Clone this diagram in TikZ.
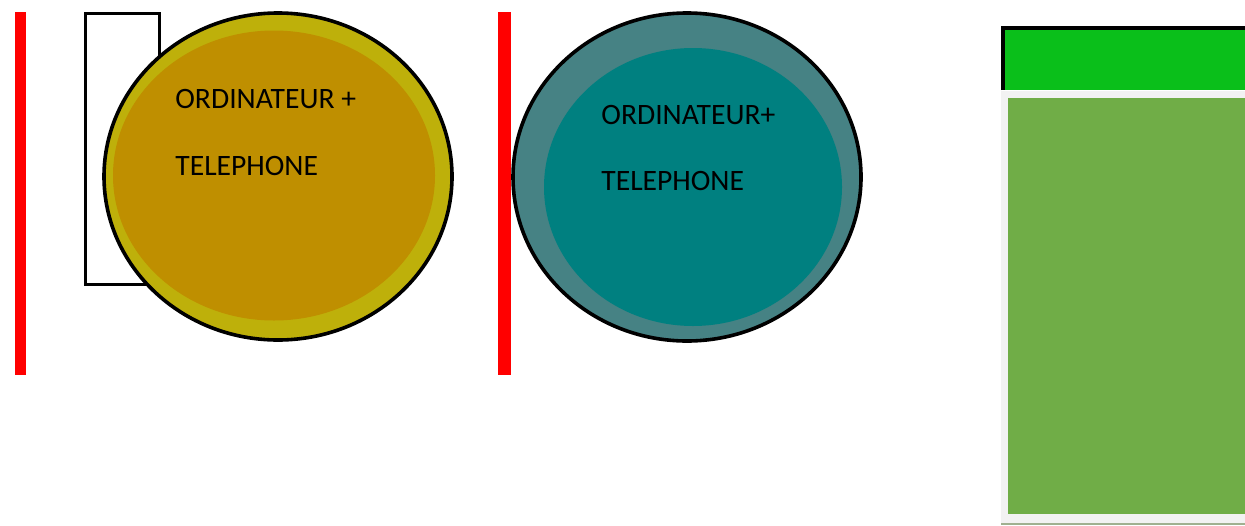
\documentclass[tikz,border=0pt]{standalone}
\usepackage{fontspec}
\setmainfont{Carlito}
\usetikzlibrary{shapes.geometric}
\definecolor{redbar}{RGB}{255,0,0}
\definecolor{olivering}{RGB}{190,176,10}
\definecolor{ochre}{RGB}{191,143,0}
\definecolor{tealring}{RGB}{70,130,132}
\definecolor{tealcore}{RGB}{0,128,128}
\definecolor{headgreen}{RGB}{10,191,26}
\definecolor{panelgreen}{RGB}{112,173,71}
\definecolor{panelgrey}{RGB}{242,242,242}
\definecolor{panelline}{RGB}{160,176,144}
\tikzset{
    bar/.style={fill=redbar, draw=none},
    ring/.style={draw, ellipse, line width=1.8pt, inner sep=0pt},
    core/.style={ellipse, draw=none, inner sep=0pt},
    label/.style={anchor=base west, inner sep=0pt, font=\fontsize{14.8}{17}\selectfont}
}
\begin{document}
\begin{tikzpicture}[x=0.5pt, y=-0.5pt]
\useasboundingbox (0,0) rectangle (1245,525);
\clip (0,0) rectangle (1245,525);
% red bars
\fill[bar] (15,12) rectangle (26,375);
\fill[bar] (498,12) rectangle (511,375);
% frame behind the first disc
\node[draw, line width=1.5pt, minimum width=37pt, minimum height=135.5pt, inner sep=0pt] (frame) at (122.5,148.5) {};
% first disc
\node[ring, fill=olivering, minimum width=174pt, minimum height=163.5pt] (discA) at (278,176.5) {};
\node[core, fill=ochre, minimum width=161pt, minimum height=145pt] (coreA) at (274,175.5) {};
\node[label] (pcA) at (175,108) {ORDINATEUR +};
\node[label] (telA) at (175,175) {TELEPHONE};
% second disc
\node[ring, fill=tealring, minimum width=174pt, minimum height=164pt] (discB) at (687,177) {};
\node[core, fill=tealcore, minimum width=149pt, minimum height=139pt] (coreB) at (693,187) {};
\node[label] (pcB) at (601,124) {ORDINATEUR+};
\node[label] (telB) at (601,190) {TELEPHONE};
% right panel
\fill[headgreen] (1003,28) rectangle (1260,90);
\draw[line width=2pt] (1003,90) |- (1260,28);
\fill[panelgrey] (1001,91) rectangle (1260,523);
\fill[panelgreen] (1008,98) rectangle (1260,514);
\fill[panelline] (1001,523) rectangle (1260,525);
\end{tikzpicture}
\end{document}
